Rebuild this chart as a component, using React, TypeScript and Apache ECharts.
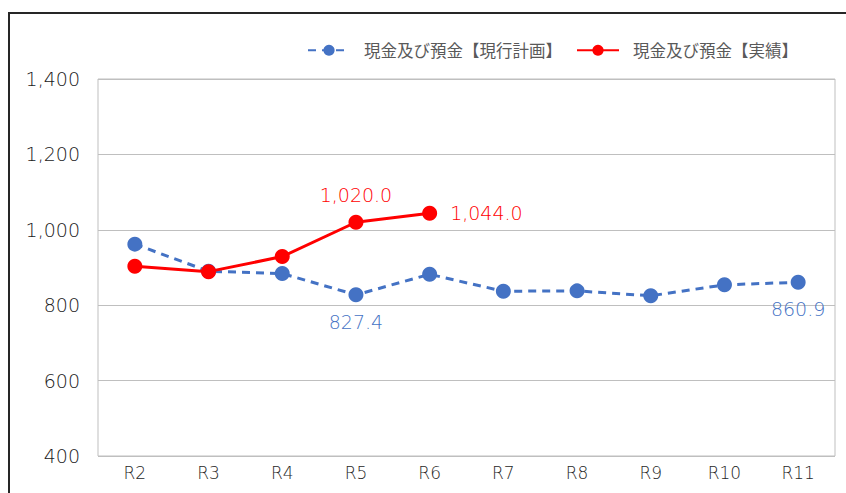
import React, { useEffect, useRef } from "react";
import * as echarts from "echarts";

const categories = ["R2", "R3", "R4", "R5", "R6", "R7", "R8", "R9", "R10", "R11"];
const planValues = [962, 890, 884, 827.4, 882, 837, 838, 825, 854, 860.9];
const actualValues: (number | null)[] = [903, 889, 929, 1020.0, 1044.0, null, null, null, null, null];
const planName = "現金及び預金【現行計画】";
const actualName = "現金及び預金【実績】";
const yTicks = { min: 400, max: 1400, interval: 200 };
const planLabelAt: Record<number, string> = { 3: "bottom", 9: "bottom" };
const actualLabelAt: Record<number, string> = { 3: "top", 4: "right" };

const FONT = "'Noto Sans CJK JP', 'Noto Sans', sans-serif";
const NUMFONT = "'DejaVu Sans', 'Noto Sans', sans-serif";
const BLUE = "#4472C4";
const RED = "#FF0000";

const fmt = (v: number) =>
  v.toLocaleString("en-US", { minimumFractionDigits: 1, maximumFractionDigits: 1 });

function buildData(values: (number | null)[], labelAt: Record<number, string>, color: string) {
  return values.map((v, i) => {
    if (v === null) return null;
    const pos = labelAt[i];
    if (!pos) return v;
    return {
      value: v,
      label: {
        show: true,
        position: pos,
        distance: pos === "right" ? 13 : 10,
        color,
        fontSize: 19,
        fontWeight: 200,
        fontFamily: NUMFONT,
        formatter: (p: any) => fmt(p.value as number),
      },
    };
  });
}

export default function App() {
  const ref = useRef<HTMLDivElement>(null);
  useEffect(() => {
    if (!ref.current) return;
    const chart = echarts.init(ref.current, undefined, { renderer: "svg" });
    chart.setOption({
      animation: false,
      backgroundColor: "#ffffff",
      textStyle: { fontFamily: FONT },
      graphic: [
        {
          type: "rect",
          shape: { x: 9, y: 13, width: 900, height: 600 },
          style: { fill: "none", stroke: "#262626", lineWidth: 2 },
          silent: true,
        },
      ],
      legend: {
        top: 37,
        left: 302,
        itemWidth: 42,
        itemHeight: 14,
        itemGap: 14,
        textStyle: { color: "#595959", fontSize: 16.5, fontFamily: FONT, padding: [0, 0, 0, 9] },
        data: [planName, actualName],
      },
      grid: {
        left: 98,
        top: 79,
        right: 11,
        bottom: 37,
        show: true,
        borderColor: "#bfbfbf",
        borderWidth: 1,
        containLabel: false,
      },
      xAxis: {
        type: "category",
        data: categories,
        boundaryGap: true,
        axisLine: { show: false },
        axisTick: { show: false },
        axisLabel: { color: "#262626", fontSize: 17, margin: 8, fontFamily: NUMFONT, fontWeight: 200 },
      },
      yAxis: {
        type: "value",
        min: yTicks.min,
        max: yTicks.max,
        interval: yTicks.interval,
        axisLine: { show: false },
        axisTick: { show: false },
        splitLine: { lineStyle: { color: "#bfbfbf", width: 1 } },
        axisLabel: {
          color: "#1a1a1a",
          fontSize: 19,
          margin: 18,
          fontFamily: NUMFONT,
          fontWeight: 200,
          formatter: (v: number) => v.toLocaleString("en-US"),
        },
      },
      series: [
        {
          name: planName,
          type: "line",
          data: buildData(planValues, planLabelAt, BLUE),
          symbol: "circle",
          symbolSize: 15,
          itemStyle: { color: BLUE },
          lineStyle: { color: BLUE, width: 3, type: [8, 6] },
          z: 2,
        },
        {
          name: actualName,
          type: "line",
          data: buildData(actualValues, actualLabelAt, RED),
          symbol: "circle",
          symbolSize: 15,
          itemStyle: { color: RED },
          lineStyle: { color: RED, width: 3 },
          z: 3,
        },
      ],
    });
    return () => chart.dispose();
  }, []);
  return (
    <div
      ref={ref}
      style={{ position: "absolute", left: 0, top: 0, width: 846, height: 493 }}
    />
  );
}
